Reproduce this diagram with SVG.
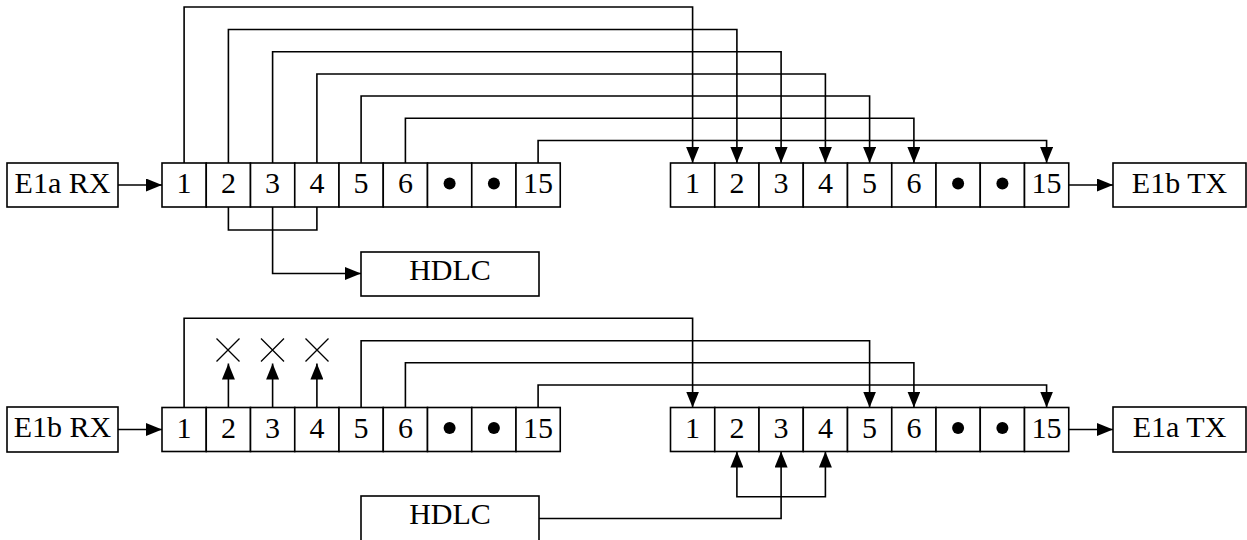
<svg xmlns="http://www.w3.org/2000/svg" width="1247" height="540" viewBox="0 0 1247 540">
<style>
.b{fill:#fff;stroke:#000;stroke-width:1.6}
.t{font-family:"Liberation Serif","Times New Roman",serif;font-size:30px;fill:#000;text-anchor:middle}
.c{fill:none;stroke:#000;stroke-width:1.6}
.d{fill:#000}
.x{stroke:#000;stroke-width:1.3;fill:none}
</style>
<defs>
<marker id="ah" markerUnits="userSpaceOnUse" markerWidth="16" markerHeight="13" refX="16" refY="6.5" orient="auto-start-reverse" viewBox="0 0 16 13">
<path d="M0,0 L16,6.5 L0,13 z" fill="#000"/>
</marker>
<g id="row">
<rect class="b" x="0" y="0" width="44.25" height="44"/>
<rect class="b" x="44.25" y="0" width="44.25" height="44"/>
<rect class="b" x="88.5" y="0" width="44.25" height="44"/>
<rect class="b" x="132.75" y="0" width="44.25" height="44"/>
<rect class="b" x="177" y="0" width="44.25" height="44"/>
<rect class="b" x="221.25" y="0" width="44.25" height="44"/>
<rect class="b" x="265.5" y="0" width="44.25" height="44"/>
<rect class="b" x="309.75" y="0" width="44.25" height="44"/>
<rect class="b" x="354" y="0" width="44.25" height="44"/>
<text class="t" x="22.1" y="30">1</text>
<text class="t" x="66.4" y="30">2</text>
<text class="t" x="110.6" y="30">3</text>
<text class="t" x="154.9" y="30">4</text>
<text class="t" x="199.1" y="30">5</text>
<text class="t" x="243.4" y="30">6</text>
<circle class="d" cx="287.6" cy="20.5" r="6"/>
<circle class="d" cx="331.9" cy="20.5" r="6"/>
<text class="t" x="376.1" y="30">15</text>
</g>
</defs>

<g id="e1a-rx"><rect class="b" x="7" y="163" width="111" height="44"/><text class="t" x="62.5" y="193">E1a RX</text></g>
<g id="top-rx-frame"><use href="#row" x="162" y="163"/></g>
<g id="top-tx-frame"><use href="#row" x="670.5" y="163"/></g>
<g id="e1b-tx"><rect class="b" x="1113" y="163" width="133" height="44"/><text class="t" x="1179.5" y="193">E1b TX</text></g>
<g id="hdlc-top"><rect class="b" x="361" y="252" width="178" height="44"/><text class="t" x="450" y="280">HDLC</text></g>

<g id="e1b-rx"><rect class="b" x="7" y="407" width="111" height="45"/><text class="t" x="62.5" y="437">E1b RX</text></g>
<g id="bot-rx-frame"><use href="#row" x="162" y="407.5"/></g>
<g id="bot-tx-frame"><use href="#row" x="670.5" y="407.5"/></g>
<g id="e1a-tx"><rect class="b" x="1113" y="407" width="133" height="45"/><text class="t" x="1179.5" y="437">E1a TX</text></g>
<g id="hdlc-bot"><rect class="b" x="361" y="496" width="178" height="50"/><text class="t" x="450" y="524">HDLC</text></g>

<g id="discard">
<path class="x" d="M216.5,338.5 L239.5,361.5 M239.5,338.5 L216.5,361.5"/>
<path class="x" d="M261,338.5 L284,361.5 M284,338.5 L261,361.5"/>
<path class="x" d="M305.5,338.5 L328.5,361.5 M328.5,338.5 L305.5,361.5"/>
</g>

<g id="connectors">
<path class="c" d="M118,185 H162" marker-end="url(#ah)"/>
<path class="c" d="M1069,185 H1113" marker-end="url(#ah)"/>
<path class="c" d="M184.1,163 V7 H692.6 V163" marker-end="url(#ah)"/>
<path class="c" d="M228.4,163 V29.5 H736.9 V163" marker-end="url(#ah)"/>
<path class="c" d="M272.6,163 V51.7 H781.1 V163" marker-end="url(#ah)"/>
<path class="c" d="M316.9,163 V74 H825.4 V163" marker-end="url(#ah)"/>
<path class="c" d="M361.1,163 V96 H869.6 V163" marker-end="url(#ah)"/>
<path class="c" d="M405.4,163 V118.3 H913.9 V163" marker-end="url(#ah)"/>
<path class="c" d="M538.1,163 V140.5 H1046.6 V163" marker-end="url(#ah)"/>
<path class="c" d="M228.4,207 V230 H316.9 V207"/>
<path class="c" d="M272.6,207 V273.5 H361" marker-end="url(#ah)"/>

<path class="c" d="M118,429.5 H162" marker-end="url(#ah)"/>
<path class="c" d="M1069,429.5 H1113" marker-end="url(#ah)"/>
<path class="c" d="M184.1,407.5 V318.3 H692.6 V407.5" marker-end="url(#ah)"/>
<path class="c" d="M361.1,407.5 V340.7 H869.6 V407.5" marker-end="url(#ah)"/>
<path class="c" d="M405.4,407.5 V362.7 H913.9 V407.5" marker-end="url(#ah)"/>
<path class="c" d="M538.1,407.5 V385 H1046.6 V407.5" marker-end="url(#ah)"/>
<path class="c" d="M228.4,407.5 V363.5" marker-end="url(#ah)"/>
<path class="c" d="M272.6,407.5 V363.5" marker-end="url(#ah)"/>
<path class="c" d="M316.9,407.5 V363.5" marker-end="url(#ah)"/>
<path class="c" d="M736.9,451.5 V496.7 H825.4 V451.5" marker-start="url(#ah)" marker-end="url(#ah)"/>
<path class="c" d="M539,518.5 H781.1 V451.5" marker-end="url(#ah)"/>
</g>
</svg>
